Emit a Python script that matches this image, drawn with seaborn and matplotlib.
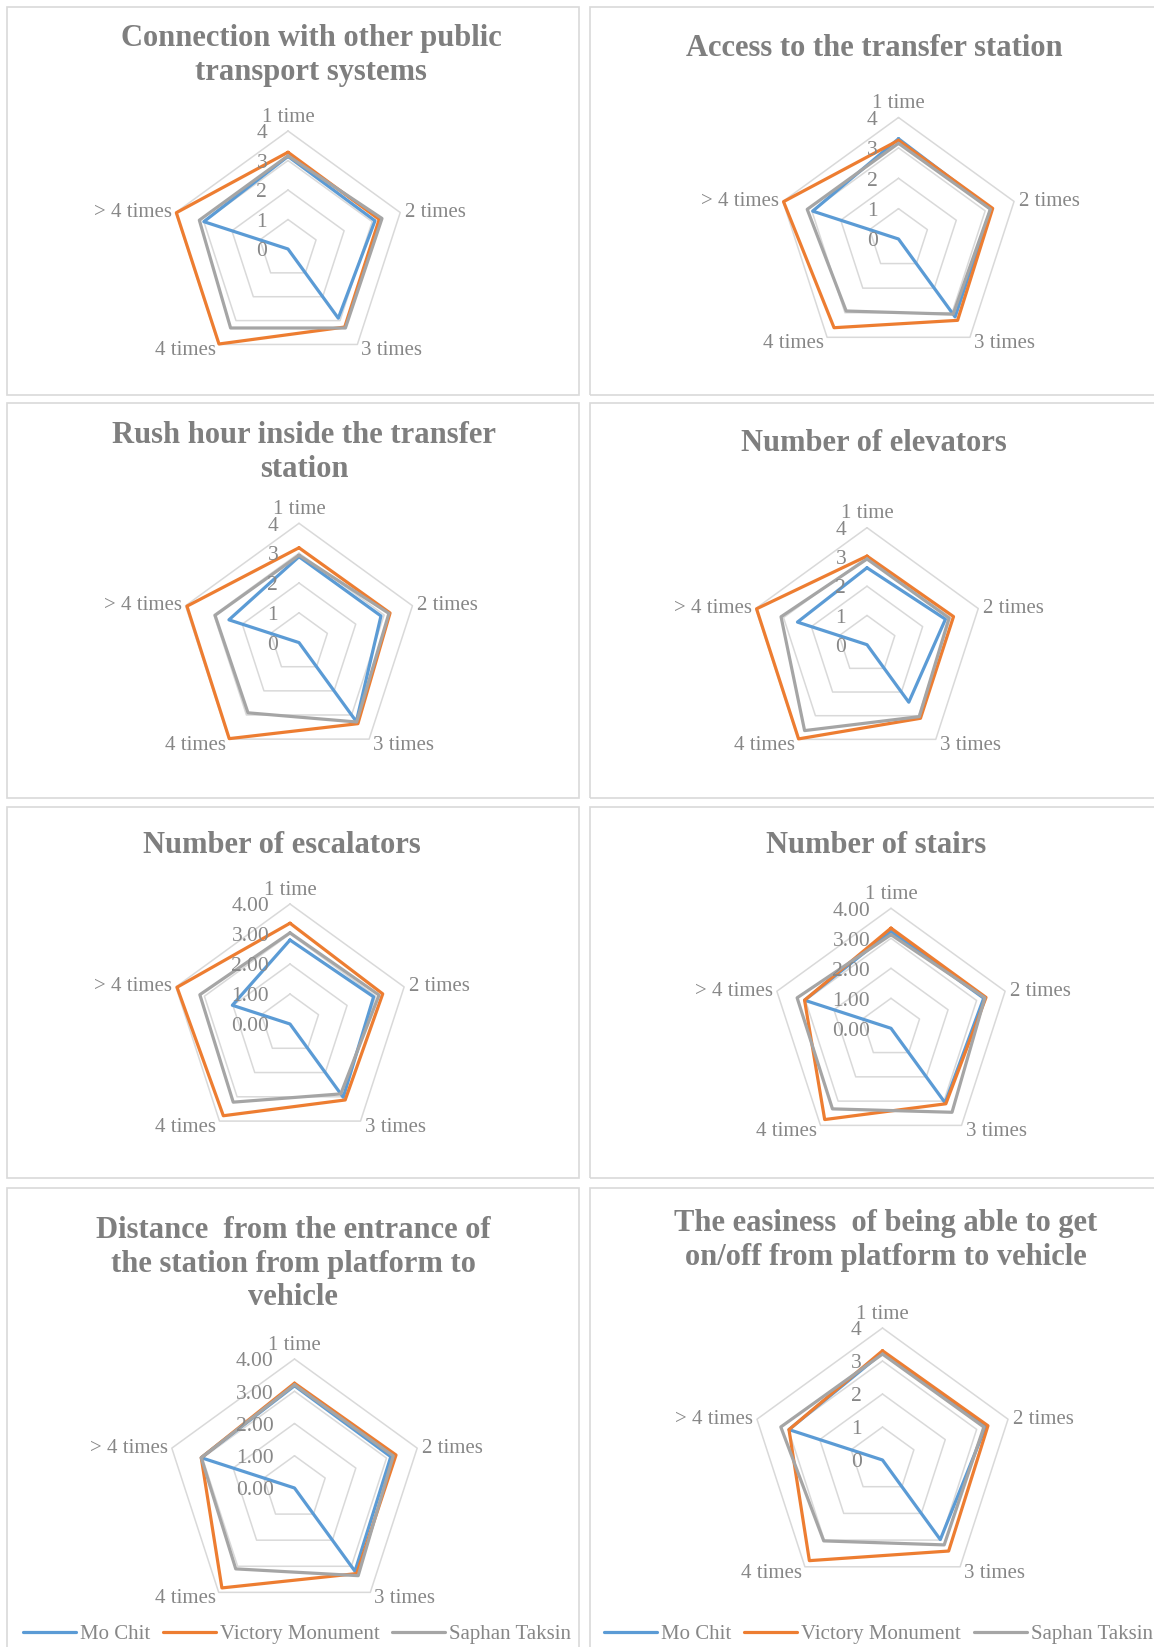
import numpy as np
import pandas as pd
import seaborn as sns
import matplotlib.pyplot as plt
from matplotlib.lines import Line2D
from matplotlib.patches import Rectangle

# categories on the radar spokes and the three stations
categories = ['1 time', '2 times', '3 times', '4 times', '> 4 times']
stations = ['Mo Chit', 'Victory Monument', 'Saphan Taksin']

titles = [
    'Connection with other public\ntransport systems',
    'Access to the transfer station',
    'Rush hour inside the transfer\nstation',
    'Number of elevators',
    'Number of escalators',
    'Number of stairs',
    'Distance  from the entrance of\nthe station from platform to\nvehicle',
    'The easiness  of being able to get\non/off from platform to vehicle',
]

# one row per chart, values in category order
mo_chit = [
    [3.14, 3.10, 2.90, 0.00, 3.00],
    [3.30, 3.20, 3.17, 0.00, 2.97],
    [2.88, 2.89, 3.27, 0.00, 2.47],
    [2.63, 2.82, 2.43, 0.00, 2.50],
    [2.80, 2.93, 3.02, 0.00, 2.02],
    [3.23, 3.25, 3.07, 0.00, 3.03],
    [3.17, 3.14, 3.19, 0.00, 3.04],
    [3.25, 3.29, 2.98, 0.00, 2.98],
]
victory_monument = [
    [3.28, 3.25, 3.27, 3.98, 3.98],
    [3.25, 3.26, 3.31, 3.61, 3.98],
    [3.18, 3.21, 3.36, 3.98, 3.95],
    [3.03, 3.11, 3.11, 3.98, 3.97],
    [3.36, 3.25, 3.13, 3.78, 3.96],
    [3.34, 3.33, 3.11, 3.76, 3.03],
    [3.25, 3.31, 3.28, 3.83, 3.04],
    [3.31, 3.36, 3.41, 3.77, 2.98],
]
saphan_taksin = [
    [3.16, 3.35, 3.31, 3.31, 3.16],
    [3.15, 3.18, 3.06, 2.93, 3.16],
    [2.93, 3.17, 3.29, 2.91, 2.96],
    [2.93, 2.95, 3.04, 3.63, 3.09],
    [3.04, 3.12, 2.88, 3.22, 3.16],
    [3.12, 3.29, 3.46, 3.32, 3.29],
    [3.20, 3.22, 3.36, 3.10, 3.04],
    [3.21, 3.23, 3.18, 3.03, 3.24],
]

r_ticks = [0, 1, 2, 3, 4]
tick_decimals = [0, 0, 0, 0, 2, 2, 2, 0]

colors = ['#5b9bd5', '#ed7d31', '#a5a5a5']
grid_color = '#d9d9d9'
title_color = '#7f7f7f'
label_color = '#878787'

sns.set_theme(style='white')
plt.rcParams['font.family'] = ['Liberation Serif', 'DejaVu Serif']

W, H = 1154, 1647
fig = plt.figure(figsize=(W / 100, H / 100), dpi=100)


def fx(px):
    return px / W


def fy(py):
    return 1 - py / H


# panel frames (pixel layout of the Excel chart boxes)
panels_x = [(6.7, 579), (590, 1160)]
panels_y = [(7.3, 395), (403, 798), (807, 1178), (1188, 1680)]
for x0, x1 in panels_x:
    for y0, y1 in panels_y:
        fig.patches.append(Rectangle((fx(x0), fy(y1)), (x1 - x0) / W, (y1 - y0) / H,
                                     transform=fig.transFigure, fill=False,
                                     ec=grid_color, lw=1.2))

# radar centre x, centre y, radius (px) and title centre x, cap top y
radar_pos = [(288, 249, 118), (898.5, 239, 121.5), (299, 642.6, 119.3), (867, 644.7, 117),
             (290, 1024, 120), (891, 1028.3, 120), (294.5, 1488, 129), (882.5, 1460, 132)]
title_pos = [(311, 25), (874.6, 35), (304, 421.7), (874, 430),
             (282, 831.7), (876.5, 831.7), (293, 1216.7), (886, 1210)]

theta = np.linspace(0, 2 * np.pi, len(categories) + 1)
label_style = [
    dict(xytext=(0, 6.7), ha='center', va='baseline'),
    dict(xytext=(3.6, 0), ha='left', va='center'),
    dict(xytext=(2.9, -7.9), ha='left', va='baseline'),
    dict(xytext=(-2.2, -7.9), ha='right', va='baseline'),
    dict(xytext=(-2.9, 0), ha='right', va='center'),
]

for i in range(len(titles)):
    cx, cy, R = radar_pos[i]
    ax = fig.add_axes([fx(cx - R), fy(cy + R), 2 * R / W, 2 * R / H], projection='polar')
    ax.set_theta_offset(np.pi / 2)
    ax.set_theta_direction(-1)

    for r in r_ticks[1:]:
        ax.plot(theta, [r] * len(theta), color=grid_color, lw=1.1, zorder=1)

    rows = []
    for name, vals in zip(stations, [mo_chit[i], victory_monument[i], saphan_taksin[i]]):
        closed = vals + vals[:1]
        for t, v in zip(theta, closed):
            rows.append({'theta': t, 'value': v, 'station': name})
    df = pd.DataFrame(rows)
    sns.lineplot(data=df, x='theta', y='value', hue='station', hue_order=stations,
                 palette=colors, sort=False, estimator=None, lw=2.3, ax=ax,
                 legend=False, zorder=3)
    for ln in ax.lines:
        ln.set_clip_on(False)

    ax.set_ylim(0, 4)
    ax.set_xticks([])
    ax.set_yticks([])
    ax.grid(False)
    ax.spines['polar'].set_visible(False)
    ax.set_xlabel('')
    ax.set_ylabel('')
    ax.patch.set_alpha(0)

    for j, cat in enumerate(categories):
        ax.annotate(cat, xy=(theta[j], 4), textcoords='offset points', fontsize=15,
                    color=label_color, annotation_clip=False, **label_style[j])
    for k in r_ticks:
        ax.annotate(f'{k:.{tick_decimals[i]}f}', xy=(0, k), xytext=(-15, -2),
                    textcoords='offset points', ha='right', va='center',
                    fontsize=15.5, color=label_color, annotation_clip=False)

    tx, ty = title_pos[i]
    fig.text(fx(tx), fy(ty - 1), titles[i], ha='center', va='top', fontsize=22,
             fontweight='bold', color=title_color, linespacing=1.22,
             multialignment='center')

handles = [Line2D([], [], color=c, lw=2.3) for c in colors]
for lx in [297, 878.5]:
    fig.legend(handles, stations, loc='center', bbox_to_anchor=(fx(lx), fy(1634)),
               ncol=3, frameon=False, fontsize=15, handlelength=2.55,
               handletextpad=0.2, columnspacing=0.6, labelcolor=label_color,
               borderaxespad=0, borderpad=0)

fig.savefig('out.png', dpi=100)
